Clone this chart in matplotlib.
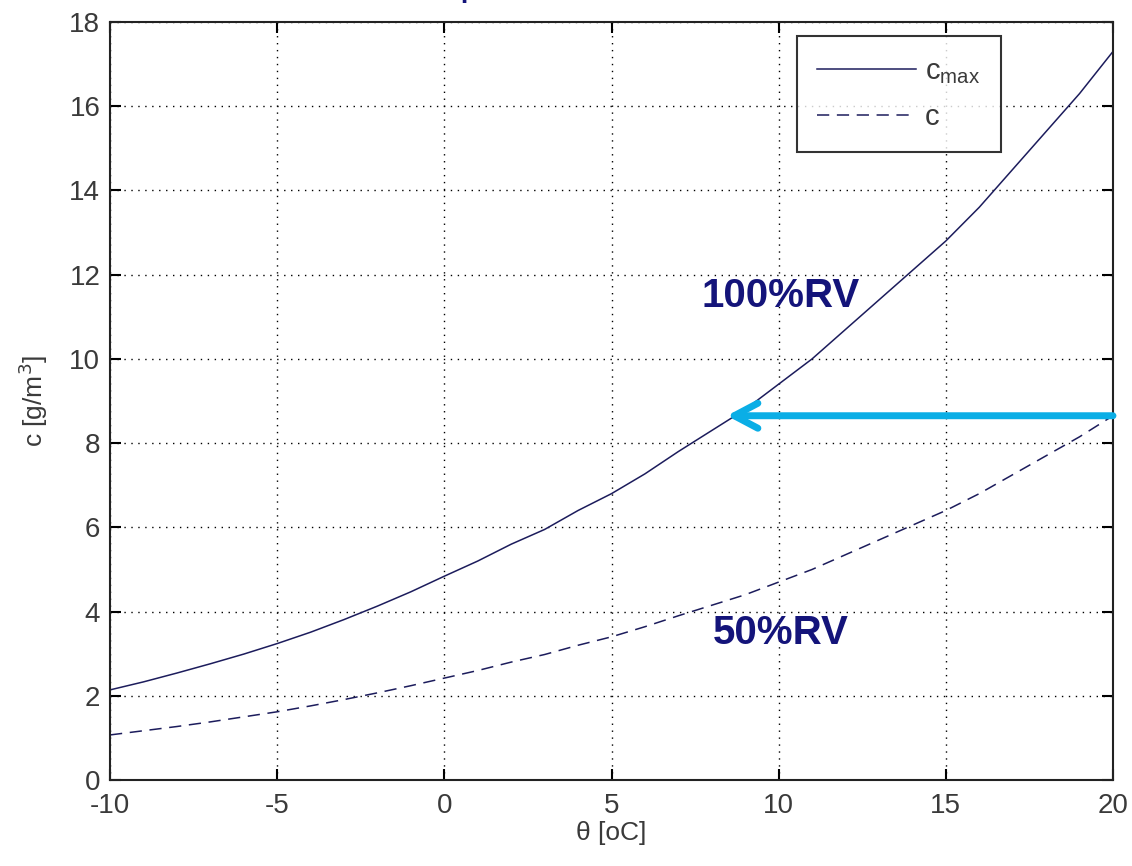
import numpy as np
import matplotlib.pyplot as plt

theta = [-10, -9, -8, -7, -6, -5, -4, -3, -2, -1, 0, 1, 2, 3, 4, 5,
         6, 7, 8, 9, 10, 11, 12, 13, 14, 15, 16, 17, 18, 19, 20]
c_max = [2.14, 2.33, 2.54, 2.76, 2.99, 3.24, 3.51, 3.81, 4.13, 4.47, 4.84,
         5.20, 5.60, 5.95, 6.40, 6.80, 7.27, 7.80, 8.30, 8.80, 9.40,
         10.00, 10.70, 11.40, 12.10, 12.80, 13.60, 14.50, 15.40, 16.30, 17.30]
c_half = [1.07, 1.17, 1.27, 1.38, 1.50, 1.62, 1.76, 1.91, 2.07, 2.24, 2.42,
          2.60, 2.80, 2.98, 3.20, 3.40, 3.64, 3.90, 4.15, 4.40, 4.70,
          5.00, 5.35, 5.70, 6.05, 6.40, 6.80, 7.25, 7.70, 8.15, 8.65]
xticks = [-10, -5, 0, 5, 10, 15, 20]
xtick_labels = ['-10', '-5', '0', '5', '10', '15', '20']

arrow_y = 8.65
arrow_from = 20
arrow_to = 8.45

line_col = '#1c1c5c'
txt_col = '#14147a'
tick_col = '#3a3a3a'
fam = ['Liberation Sans', 'DejaVu Sans']

fig = plt.figure(figsize=(11.32, 8.66), dpi=100)
ax = fig.add_axes([0.0972, 0.0993, 0.886, 0.8753])

ax.plot(theta, c_max, '-', color=line_col, lw=1.1, label='c$_{\\mathregular{max}}$')
ax.plot(theta, c_half, '--', color=line_col, lw=1.1, dashes=(8, 5), label='c')

ax.set_xlim(-10, 20)
ax.set_ylim(0, 18)
ax.set_xticks(xticks)
ax.set_xticklabels(xtick_labels)
ax.set_yticks(np.arange(0, 19, 2))
ax.grid(True, linestyle=(0, (1, 4)), color='black', lw=1.0)
ax.tick_params(direction='in', length=8, width=1.5, labelsize=20, labelcolor=tick_col,
               top=True, right=True)
ax.tick_params(axis='x', pad=9)
ax.tick_params(axis='y', pad=7)
for lab in ax.get_xticklabels() + ax.get_yticklabels():
    lab.set_family(fam)
for s in ax.spines.values():
    s.set_linewidth(1.5)
    s.set_color('#222222')

ax.set_xlabel('θ [oC]', fontsize=19, color=tick_col, family=fam, labelpad=2)
ax.set_ylabel('c [g/m$^3$]', fontsize=19, color=tick_col, family=fam, labelpad=14)

leg = ax.legend(loc='upper right', bbox_to_anchor=(0.888, 0.981),
                frameon=True, fancybox=False, edgecolor='black', handlelength=3.4,
                handletextpad=0.3, labelspacing=0.6, borderpad=0.7, borderaxespad=0,
                prop={'family': fam, 'size': 21})
leg.get_frame().set_linewidth(1.5)
for t in leg.get_texts():
    t.set_color(tick_col)

ax.annotate('', xy=(arrow_to, arrow_y), xytext=(arrow_from, arrow_y),
            arrowprops=dict(arrowstyle='->,head_length=1.7,head_width=0.9',
                            color='#0aaee6', lw=5, shrinkA=0, shrinkB=0,
                            capstyle='round', joinstyle='round'))

ax.text(10.05, 11.5, '100%RV', fontsize=29, fontweight='bold', color=txt_col,
        family='Liberation Sans', ha='center', va='center')
ax.text(10.05, 3.5, '50%RV', fontsize=29, fontweight='bold', color=txt_col,
        family='Liberation Sans', ha='center', va='center')

fig.text(0.406, 1.007, 'p', fontsize=30, color=txt_col, family='Liberation Sans',
         ha='left', va='baseline')

fig.savefig('out.png', dpi=100)
